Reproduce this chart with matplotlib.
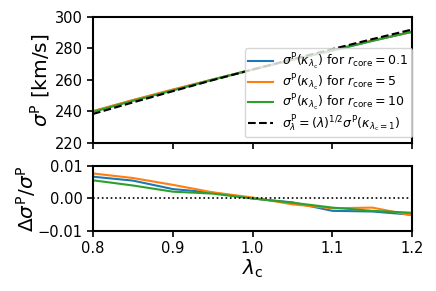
import matplotlib
matplotlib.use("Agg")
import matplotlib.pyplot as plt

lam = [0.80, 0.85, 0.90, 0.95, 1.00, 1.05, 1.10, 1.15, 1.20]

sigma_lam = [238.4, 245.7, 252.8, 259.8, 266.5, 273.1, 279.5, 285.8, 291.9]
sigma_r01 = [240.0, 247.05, 253.6, 260.2, 266.5, 272.8, 278.4, 284.7, 290.4]
sigma_r5 = [240.2, 247.2, 253.9, 260.2, 266.6, 272.6, 278.7, 285.0, 290.4]
sigma_r10 = [239.7, 246.7, 253.3, 260.1, 266.5, 272.7, 278.7, 284.7, 290.6]

res_r01 = [0.0067, 0.0055, 0.0029, 0.0018, 0.0000, -0.0012, -0.0038, -0.0040, -0.0050]
res_r5 = [0.0077, 0.0063, 0.0042, 0.0019, 0.0003, -0.0018, -0.0030, -0.0028, -0.0052]
res_r10 = [0.0056, 0.0040, 0.0021, 0.0015, 0.0000, -0.0013, -0.0028, -0.0038, -0.0044]

labels = [r"$\sigma^{\rm P}(\kappa_{\lambda_{\rm c}})$ for $r_{\rm core}=0.1$",
          r"$\sigma^{\rm P}(\kappa_{\lambda_{\rm c}})$ for $r_{\rm core}=5$",
          r"$\sigma^{\rm P}(\kappa_{\lambda_{\rm c}})$ for $r_{\rm core}=10$",
          r"$\sigma^{\rm P}_{\lambda}=(\lambda)^{1/2}\sigma^{\rm P}(\kappa_{\lambda_{\rm c}=1})$"]
colors = ["#1f77b4", "#ff7f0e", "#2ca02c"]

fig = plt.figure(figsize=(4.36, 2.91), dpi=100)
ax1 = fig.add_axes([0.2133, 0.5086, 0.732, 0.434])
ax2 = fig.add_axes([0.2133, 0.2062, 0.732, 0.2234])

for s, c, l in zip([sigma_r01, sigma_r5, sigma_r10], colors, labels[:3]):
    ax1.plot(lam, s, color=c, lw=1.5, label=l)
ax1.plot(lam, sigma_lam, color="black", ls="--", lw=1.5, label=labels[3])
ax1.set_xlim(0.8, 1.2)
ax1.set_ylim(220, 300)
ax1.set_yticks([220, 240, 260, 280, 300])
ax1.set_xticks([0.8, 0.9, 1.0, 1.1, 1.2])
ax1.set_xticklabels([])
ax1.set_ylabel(r"$\sigma^{\rm P}$ [km/s]", fontsize=14.5, labelpad=2)
ax1.legend(loc="lower right", bbox_to_anchor=(1.0, 0.045), borderaxespad=0,
           fontsize=9, handlelength=2.0, handletextpad=0.7,
           labelspacing=0.02, borderpad=0.3)

for r, c in zip([res_r01, res_r5, res_r10], colors):
    ax2.plot(lam, r, color=c, lw=1.5)
ax2.axhline(0, color="black", ls=":", lw=1.2)
ax2.set_xlim(0.8, 1.2)
ax2.set_ylim(-0.01, 0.01)
ax2.set_yticks([-0.01, 0.0, 0.01])
ax2.set_xticks([0.8, 0.9, 1.0, 1.1, 1.2])
ax2.set_xlabel(r"$\lambda_{\rm c}$", fontsize=14.5, labelpad=1)
ax2.set_ylabel(r"$\Delta\sigma^{\rm P}/\sigma^{\rm P}$", fontsize=14.5, labelpad=0)

for ax in (ax1, ax2):
    ax.tick_params(labelsize=10.5, width=1.2, length=4)
    for sp in ax.spines.values():
        sp.set_linewidth(1.5)

fig.savefig("out.png", dpi=100)
